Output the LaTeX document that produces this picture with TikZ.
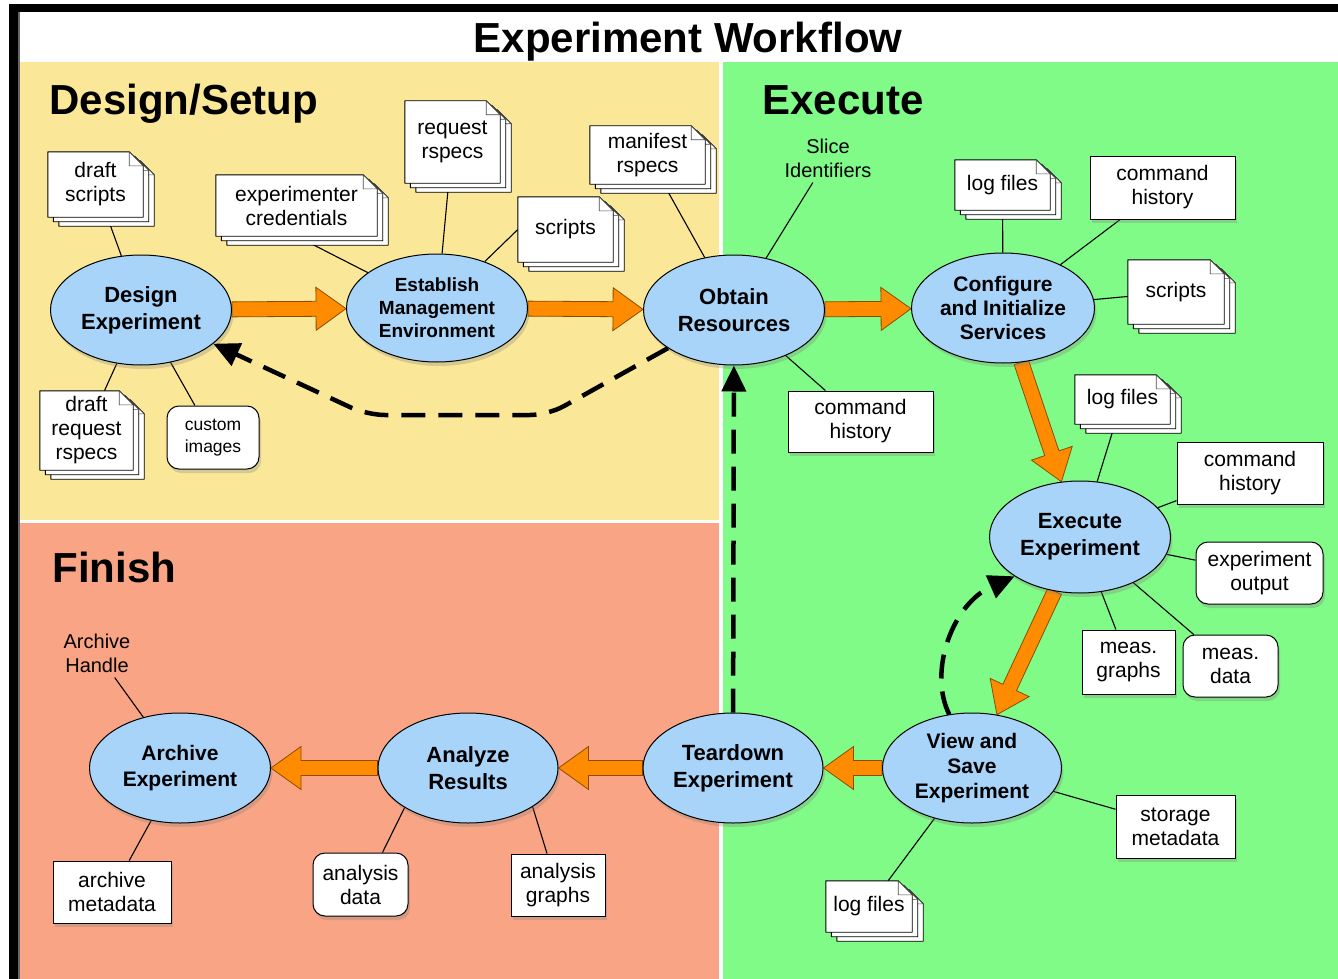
\documentclass[tikz,border=0pt]{standalone}
\usepackage{fontspec}
\setmainfont{Liberation Sans}
\usetikzlibrary{shapes.geometric,arrows.meta,calc,shadows}
\pgfdeclarelayer{bg}\pgfdeclarelayer{links}\pgfdeclarelayer{docs}
\pgfsetlayers{bg,links,docs,main}
\definecolor{setupyellow}{RGB}{250,232,152}
\definecolor{rungreen}{RGB}{128,251,136}
\definecolor{finishsalmon}{RGB}{249,164,132}
\definecolor{procblue}{RGB}{168,212,250}
\definecolor{flow}{RGB}{255,140,0}
\definecolor{flowedge}{RGB}{140,75,0}

% a stack of three pages with a folded corner behind a document node
\newcommand\docstack[1]{%
  \begin{pgfonlayer}{docs}
    \foreach \k in {2,1,0}{%
      \pgfmathsetmacro\dx{5.5*\k}\pgfmathsetmacro\dy{4.5*\k}%
      \path[docpage]
        ([shift={(\dx,\dy)}]#1.north west) --
        ([shift={(\dx-14,\dy)}]#1.north east) --
        ([shift={(\dx,\dy+14)}]#1.north east) --
        ([shift={(\dx,\dy)}]#1.south east) --
        ([shift={(\dx,\dy)}]#1.south west) -- cycle;
      \path[docfold]
        ([shift={(\dx-14,\dy)}]#1.north east) --
        ([shift={(\dx-14,\dy+14)}]#1.north east) --
        ([shift={(\dx,\dy+14)}]#1.north east) -- cycle;
    }
  \end{pgfonlayer}}

% broad orange flow arrow from one node border to another
\newcommand\fatarrow[2]{%
  \path (#1) -- (#2) coordinate[pos=0] (fa-s) coordinate[pos=1] (fa-e);
  \coordinate (fa-h) at ($(fa-e)!30pt!(fa-s)$);
  \filldraw[flowarrow]
    ($(fa-s)!7.5pt!90:(fa-e)$) -- ($(fa-h)!7.5pt!-90:(fa-s)$) --
    ($(fa-h)!21.5pt!-90:(fa-s)$) -- (fa-e) --
    ($(fa-h)!21.5pt!90:(fa-s)$) -- ($(fa-h)!7.5pt!90:(fa-s)$) --
    ($(fa-s)!7.5pt!-90:(fa-e)$) -- cycle;}

\begin{document}
\begin{tikzpicture}[x=1pt,y=-1pt,
  shade/.style={drop shadow={shadow xshift=2pt,shadow yshift=-4pt,opacity=0.3}},
  proc/.style={ellipse,draw=black,line width=1pt,fill=procblue,
    minimum width=181pt,minimum height=110pt,inner sep=0pt,align=center,
    font=\fontsize{22}{27}\selectfont\bfseries,shade},
  box/.style={rectangle,draw=black,line width=1pt,fill=white,inner sep=0pt,
    align=center,font=\fontsize{21}{24}\selectfont,shade},
  rbox/.style={box,rounded corners=12pt},
  doc/.style={rectangle,draw=none,inner sep=0pt,align=center,
    font=\fontsize{21}{24}\selectfont},
  sz/.style 2 args={minimum width=#1,minimum height=#2},
  note/.style={inner sep=5pt,align=center,font=\fontsize{20}{24}\selectfont},
  docpage/.style={fill=white,draw=black,line width=0.9pt,line join=round},
  docfold/.style={fill=white,draw=black!70,line width=0.6pt,line join=round},
  link/.style={line width=1.1pt},
  flowarrow/.style={fill=flow,draw=flowedge,line width=0.8pt,line join=miter},
  dasharrow/.style={line width=4.5pt,dash pattern=on 24pt off 13pt,
    -{Triangle[length=26pt,width=24pt]}},
  heading/.style={anchor=base west,font=\fontsize{42}{46}\selectfont\bfseries}]
\useasboundingbox (0,0) rectangle (1338,979);

% panels and frame
\begin{pgfonlayer}{bg}
  \fill[white] (0,0) rectangle (1338,979);
  \fill[setupyellow] (20,62) rectangle (719,520);
  \fill[finishsalmon] (20,523) rectangle (719,979);
  \fill[rungreen] (723,62) rectangle (1338,979);
  \fill[black] (9,4) rectangle (1338,12);
  \fill[black] (9,4) rectangle (18,979);
  \fill[black!60] (18,12) rectangle (20,979);
\end{pgfonlayer}

\node[anchor=base,font=\fontsize{42}{46}\selectfont\bfseries] (title) at (688,53) {Experiment Workflow};
\node[heading] (hsetup) at (46,114) {Design/Setup};
\node[heading] (hexec) at (759,114) {Execute};
\node[heading] (hfin) at (49,582) {Finish};

% process steps
\node[proc] (des) at (141,310) {Design\\Experiment};
\node[proc,minimum height=108pt,font=\fontsize{19}{23}\selectfont\bfseries] (est) at (437,308) {Establish\\Management\\Environment};
\node[proc] (obt) at (734,310) {Obtain\\Resources};
\node[proc,minimum width=183pt,font=\fontsize{21}{24}\selectfont\bfseries] (cfg) at (1003,308) {Configure\\and Initialize\\Services};
\node[proc,minimum height=112pt] (exe) at (1080,537) {Execute\\Experiment};
\node[proc,minimum width=179pt,font=\fontsize{21}{25}\selectfont\bfseries] (vas) at (972,768) {View and\\Save\\Experiment};
\node[proc,minimum width=180pt] (tdn) at (733,768) {Teardown\\Experiment};
\node[proc,minimum width=180pt] (ana) at (468,768) {Analyze\\Results};
\node[proc,font=\fontsize{21}{26}\selectfont\bfseries] (arc) at (180,768) {Archive\\Experiment};

% document stacks
\node[doc,sz={95pt}{65pt}] (dscr) at (95.5,184.5) {draft\\scripts};
\node[doc,sz={161pt}{61pt}] (cred) at (296.5,205.5) {experimenter\\credentials};
\node[doc,sz={95pt}{82pt}] (rreq) at (452.5,142) {request\\rspecs};
\node[doc,sz={95pt}{65pt}] (scra) at (565.5,229.5) {scripts};
\node[doc,sz={115pt}{58pt}] (mani) at (647.5,155) {manifest\\rspecs};
\node[doc,sz={93pt}{79pt}] (dreq) at (86.5,430.5) {draft\\request\\rspecs};
\node[doc,sz={95pt}{50pt}] (loga) at (1002.5,185) {log files};
\node[doc,sz={96pt}{64pt}] (scrb) at (1176,292) {scripts};
\node[doc,sz={95pt}{49pt}] (logb) at (1122.5,399.5) {log files};
\node[doc,sz={86pt}{51pt}] (logc) at (869,906.5) {log files};
\foreach \d in {dscr,cred,rreq,scra,mani,dreq,loga,scrb,logb,logc}{\docstack{\d}}

% plain boxes
\node[box,sz={145pt}{61pt}] (cha) at (860.5,421.5) {command\\history};
\node[box,sz={145pt}{63pt}] (chb) at (1162.5,187.5) {command\\history};
\node[box,sz={146pt}{62pt}] (chc) at (1250,473) {command\\history};
\node[box,sz={93pt}{64pt}] (mgr) at (1128.5,662) {meas.\\graphs};
\node[box,sz={119pt}{63pt}] (stm) at (1175.5,826.5) {storage\\metadata};
\node[box,sz={118pt}{62pt}] (amd) at (112,892) {archive\\metadata};
\node[box,sz={94pt}{62pt}] (agr) at (558,885) {analysis\\graphs};

% rounded boxes
\node[rbox,sz={92pt}{63pt},font=\fontsize{17.5}{22}\selectfont] (cimg) at (213,437.5) {custom\\images};
\node[rbox,sz={127pt}{62pt}] (eout) at (1259.5,573) {experiment\\output};
\node[rbox,sz={95pt}{62pt}] (mdat) at (1230.5,666) {meas.\\data};
\node[rbox,sz={95pt}{63pt}] (adat) at (360.5,884.5) {analysis\\data};

% free labels
\node[note] (slice) at (828,158) {Slice\\Identifiers};
\node[note] (ahnd) at (97,653) {Archive\\Handle};

\begin{pgfonlayer}{links}
  % artefacts attached to each step
  \draw[link] (des) -- (dscr);
  \draw[link] (des) -- (dreq);
  \draw[link] (des) -- (cimg);
  \draw[link] (est) -- (cred.south);
  \draw[link] (est) -- (rreq);
  \draw[link] (est) -- (scra.west);
  \draw[link] (obt) -- (mani);
  \draw[link] (obt) -- (slice);
  \draw[link] (obt) -- (cha);
  \draw[link] (cfg) -- (loga);
  \draw[link] (cfg) -- (chb);
  \draw[link] (cfg) -- (scrb);
  \draw[link] (exe) -- (logb);
  \draw[link] (exe) -- (chc);
  \draw[link] (exe) -- (eout);
  \draw[link] (exe) -- (mgr);
  \draw[link] (exe) -- (mdat);
  \draw[link] (vas) -- (stm);
  \draw[link] (vas) -- (logc);
  \draw[link] (arc) -- (ahnd);
  \draw[link] (arc) -- (amd);
  \draw[link] (ana.212) -- ([xshift=22pt]adat.north);
  \draw[link] (ana.-31) -- ([xshift=-11pt]agr.north);
  % main flow
  \fatarrow{des}{est}
  \fatarrow{est}{obt}
  \fatarrow{obt}{cfg}
  \fatarrow{cfg}{exe}
  \fatarrow{exe}{vas}
  \fatarrow{vas}{tdn}
  \fatarrow{tdn}{ana}
  \fatarrow{ana}{arc}
\end{pgfonlayer}

% loops back
\coordinate (ra) at (548,415);
\coordinate (rb) at (367,415);
\draw[dasharrow,rounded corners=18pt] (obt.210) -- (ra) -- (rb) -- (des.-25);
\draw[dasharrow] (tdn) -- (obt);
\draw[dasharrow] (vas.113) .. controls (928,672) and (952,604) .. (exe.211);
\end{tikzpicture}
\end{document}
